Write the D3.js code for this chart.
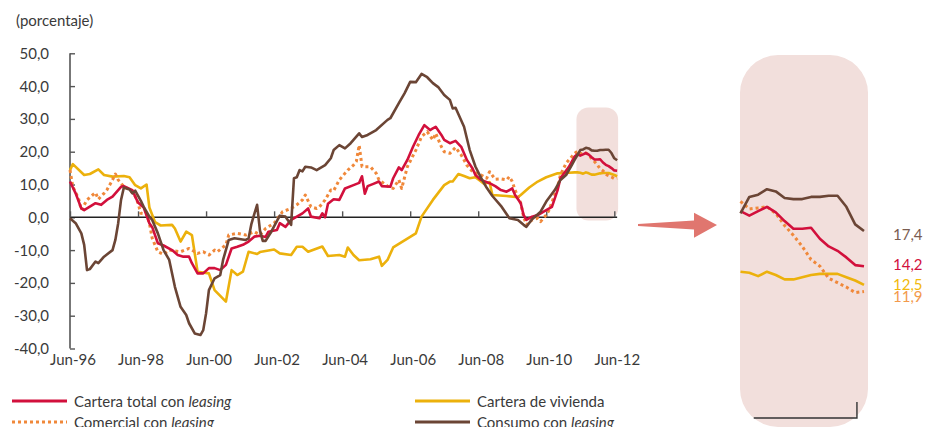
<!DOCTYPE html>
<html><head><meta charset="utf-8">
<script src="https://cdn.jsdelivr.net/npm/d3@7"></script>
<style>
html,body{margin:0;padding:0;background:#fff;}
svg{display:block;font-family:Lato,"Open Sans",sans-serif;}
</style></head>
<body><svg id="c" width="926" height="427"></svg>
<script>
// ---- data (month index: 0 = Jun-96, 192 = Jun-12) ----
const xTickLabels = ["Jun-96","Jun-98","Jun-00","Jun-02","Jun-04","Jun-06","Jun-08","Jun-10","Jun-12"];
const xTickMonths = [0,24,48,72,96,120,144,168,192];
const yTicks = [50,40,30,20,10,0,-10,-20,-30,-40];
const seriesNames = ["Cartera total con ", "Comercial con ", "Cartera de vivienda", "Consumo con "];
const seriesItalic = ["leasing", "leasing", "", "leasing"];
const endLabels = ["14,2", "11,9", "12,5", "17,4"];

const carteraTotal = [[0,10.9],[2,7.3],[4,2.7],[5,2.2],[9,4.3],[11,3.8],[13,5.3],[15,6.3],[18,9.3],[19,9.5],[22,8.3],[23,6.3],[24,4.5],[26,3.0],[28,-1.8],[29,-3],[31,-7.9],[33,-8.6],[36,-10],[38,-11.5],[40,-12],[42,-12],[43,-14],[45,-17.1],[47,-17.1],[49,-15.5],[51,-15.5],[53,-16.1],[55,-14.5],[57,-9.5],[59,-9],[61,-8.4],[63,-7.4],[65,-5.9],[67,-5.6],[69,-6],[70,-4.4],[73,-3.9],[74,-1.8],[76,-2.9],[78,-0.8],[80,0.2],[82,1.2],[84,2.7],[85,0.2],[88,-0.3],[89,1.2],[90,0],[91,4.1],[93,5.5],[95,5.3],[97,8.8],[100,9.8],[102,10.5],[103,12.5],[104,7.2],[105,9.5],[107,10.2],[109,10.9],[110,9.5],[113,9.3],[114,11.9],[116,15.2],[117,14.4],[119,17.5],[121,21.5],[123,25.1],[125,28.1],[127,26.6],[128,27.1],[129,27.6],[131,25.1],[132,23.6],[134,22.6],[136,23.3],[138,21.5],[140,17.5],[142,14.9],[143,12.9],[145,11.4],[148,10.4],[150,9.5],[152,8.3],[154,7.8],[156,8.8],[157,6.8],[159,4.3],[160,0.7],[161,-0.8],[163,0.2],[165,0.7],[168,2.2],[170,3.2],[172,8.3],[173,11.9],[176,15.4],[177,17.0],[178,18.5],
  [179,19.2],[180,18.8],[181,19.2],[182,19.6],[183,19.1],[184,18.3],[185,17.6],[186,17.6],[187,17.7],[188,16.7],[189,16.0],[190,15.6],[191,15.0],[192,14.3],[193,14.2]];

const comercial = [[0,14.4],[1,9.3],[3,5.8],[4,2.2],[6,5.3],[8,6.8],[9,7.5],[10,5.5],[12,7.3],[13,8.3],[15,11.4],[16,13.2],[17,11.4],[19,9.3],[21,8.5],[23,6.5],[24,4.3],[25,1.2],[27,1.0],[28,-1.8],[29,-6.4],[31,-10.5],[33,-11.3],[35,-10],[39,-10.5],[42,-9.5],[45,-11],[47,-10.5],[49,-11.5],[51,-10],[52,-10.5],[55,-8.4],[56,-5.4],[59,-4.9],[62,-5.4],[65,-4.4],[67,-5.4],[69,-3.4],[72,-1.8],[75,1.7],[78,2.7],[80,3.8],[82,5.3],[83,6.8],[85,3.2],[87,2.7],[88,3.2],[90,5.3],[92,8.3],[93,8.1],[95,11.4],[98,14.4],[100,15.9],[101,17],[102,22],[103,15.5],[104,15.4],[106,15.4],[108,13.4],[109,11.4],[112,9.5],[114,8.8],[116,11.4],[117,8.8],[119,15.4],[122,20.5],[124,24.6],[126,26.1],[128,23.6],[129,25.6],[131,21.5],[132,20],[134,19.5],[136,21.3],[138,19],[140,15.9],[142,13.9],[145,12.9],[147,11.9],[148,13.9],[150,11.6],[152,11.7],[154,11.4],[155,12.4],[156,10.9],[157,8.3],[159,4.3],[160,0.2],[161,-2.3],[163,-0.8],[165,-0.3],[166,-1.3],[168,0.7],[169,2.2],[172,9.3],[173,12.9],[175,16.5],[177,18.5],[178,19.5],
  [179,20.1],[180,19.4],[181,19.5],[182,19.6],[183,19.0],[184,17.9],[185,17.0],[186,16.0],[187,14.8],[188,14.2],[189,13.1],[190,12.7],[191,12.3],[192,11.8],[193,11.9]];

const vivienda = [[0,14.4],[1,16.2],[5,12.9],[7,13.2],[10,14.6],[12,12.9],[15,12.4],[19,12.6],[21,12.2],[23,9.8],[25,8.8],[27,10.0],[28,3.0],[30,-1.5],[32,-2.5],[36,-2.3],[37,-3.4],[39,-7.4],[41,-4.4],[43,-5.4],[45,-16.6],[49,-17.1],[51,-22.2],[55,-25.7],[57,-16.1],[59,-17.6],[61,-16.6],[63,-10.5],[66,-11.2],[67,-10.6],[72,-9.8],[74,-11],[78,-11.5],[80,-9.0],[82,-9.0],[84,-10.5],[89,-8.9],[91,-11.8],[95,-11.5],[97,-12],[98,-9.2],[100,-11.5],[102,-13.1],[106,-12.8],[109,-12],[110,-14.8],[112,-13],[114,-9.2],[117,-7.6],[122,-4.9],[124,0.2],[128,5.3],[132,9.8],[134,10.9],[135,10.9],[137,13.2],[139,12.6],[141,11.9],[143,12.2],[145,10.9],[146,10.2],[148,10.7],[149,6.8],[154,6.5],[158,6.1],[159,6.8],[162,9.1],[165,10.9],[168,12.2],[172,13.4],[176,13.6],[178,13.7],
  [179,13.7],[180,13.6],[181,13.3],[182,13.7],[183,13.4],[184,13.0],[185,13.0],[186,13.2],[187,13.4],[188,13.5],[189,13.5],[190,13.5],[191,13.2],[192,12.9],[193,12.5]];

const consumo = [[0,-0.3],[2,-1.8],[4,-4.9],[5,-8.4],[6,-16.1],[7,-15.8],[9,-13.5],[10,-14],[12,-12],[15,-10],[16,-6.9],[17,-1.8],[18,5.3],[19,9.1],[21,8.5],[22,7.3],[23,8.1],[25,5.0],[26,3.2],[28,0.2],[29,-0.8],[31,-4.9],[33,-10],[35,-13],[37,-21.2],[39,-27.3],[41,-29.8],[42,-32.3],[44,-35.4],[46,-35.9],[47,-34.4],[48,-29.3],[49,-22.2],[51,-18.6],[53,-17.6],[54,-13],[56,-6.9],[58,-6.4],[62,-6.9],[63,-6.4],[64,-2],[65,1.0],[66,3.8],[67,-4],[68,-7.2],[69,-7.2],[71,-4.4],[74,0.5],[76,0.2],[78,-2.3],[79,11.9],[80,12.2],[81,14.4],[82,14.0],[83,15.4],[85,15.2],[87,14.4],[90,15.9],[92,18],[93,20.5],[95,22],[97,21],[99,22.6],[100,23.6],[102,25.6],[103,24.5],[105,25.1],[108,26.6],[112,29.7],[113,30.2],[116,34.8],[118,37.8],[120,41.3],[122,41.2],[124,43.7],[126,42.7],[128,40.9],[130,39.6],[132,37.3],[134,35.8],[135,33.2],[136,33.4],[139,27.6],[141,20.5],[143,15.5],[145,12],[147,9.0],[149,6.5],[152,3.5],[155,-0.3],[158,-0.8],[160,-2.3],[161,-2.9],[163,-0.6],[166,1.7],[168,4.8],[171,8.3],[173,11.4],[175,12.9],[177,15.9],[178,17.5],
  [179,19.0],[180,20.5],[181,20.7],[182,21.2],[183,21.0],[184,20.4],[185,20.3],[186,20.3],[187,20.5],[188,20.5],[189,20.6],[190,20.6],[191,19.6],[192,18.0],[193,17.4]];

const zoomStart = 179, zoomEnd = 193;

// ---- styles ----
const colors = ["#d2103c", "#f0883a", "#ecb10c", "#6b4535"];
const labelColors = ["#d2103c", "#f39a4c", "#f2b90a", "#7a5c50"];
const seriesData = [carteraTotal, comercial, vivienda, consumo];
const drawOrder = [2, 1, 0, 3];

const svg = d3.select("#c");
const textColor = "#3a3a3a";

const x = d3.scaleLinear().domain([0, 192]).range([70, 614.3]);
const y = d3.scaleLinear().domain([-40, 50]).range([348.5, 53.3]);
const xz = d3.scaleLinear().domain([zoomStart, zoomEnd]).range([740.5, 864]);
const yz = d3.scaleLinear().domain([10, 25]).range([312.4, 147.4]);

// unit label
svg.append("text").attr("x", 16).attr("y", 26).attr("font-size", 15).attr("fill", textColor).text("(porcentaje)");

// highlight box in main chart
svg.append("rect")
  .attr("x", x(zoomStart) - 1).attr("y", y(33.5))
  .attr("width", x(zoomEnd) - x(zoomStart) + 2).attr("height", y(-1) - y(33.5))
  .attr("rx", 12).attr("fill", "#f2dfdc");

// y axis
const yAxis = d3.axisRight(y).tickValues(yTicks).tickSize(5).tickFormat(() => "");
const gy = svg.append("g").attr("transform", `translate(${x(0)},0)`).call(yAxis);
gy.select(".domain").attr("stroke", "#555").attr("stroke-width", 1.6).attr("d", `M0,${y(50)}V${y(-40)}`);
gy.selectAll(".tick line").attr("stroke", "#555").attr("stroke-width", 1.4);
svg.append("g").selectAll("text").data(yTicks).join("text")
  .attr("x", 49).attr("y", d => y(d) + 5.5).attr("text-anchor", "end")
  .attr("font-size", 15).attr("fill", textColor)
  .text(d => d.toFixed(1).replace(".", ","));

// x axis at zero
const xAxis = d3.axisTop(x).tickValues(xTickMonths).tickSize(6).tickFormat(() => "");
const gx = svg.append("g").attr("transform", `translate(0,${y(0)})`).call(xAxis);
gx.select(".domain").attr("stroke", "#222").attr("stroke-width", 1.5).attr("d", `M${x(0)},0H${x(zoomEnd)}`);
gx.selectAll(".tick line").attr("stroke", "#555").attr("stroke-width", 1.4);
svg.append("g").selectAll("text").data(xTickMonths).join("text")
  .attr("x", d => x(d) + 3).attr("y", 365).attr("text-anchor", "middle")
  .attr("font-size", 15).attr("fill", textColor)
  .text((d, i) => xTickLabels[i]);

// main lines
const line = d3.line().x(d => x(d[0])).y(d => y(d[1]));
drawOrder.forEach(i => {
  const p = svg.append("path").datum(seriesData[i]).attr("d", line)
    .attr("fill", "none").attr("stroke", colors[i]).attr("stroke-width", 2.6)
    .attr("stroke-linejoin", "round");
  if (i === 1) p.attr("stroke-dasharray", "3,3").attr("stroke-width", 3);
});

// arrow
svg.append("path")
  .attr("d", "M638,224L694,220.5L694,212.7L717,225L694,237.7L694,229.5L638,226Z")
  .attr("fill", "#e0766f");

// zoom panel
svg.append("rect").attr("x", 740).attr("y", 55).attr("width", 128).attr("height", 372)
  .attr("rx", 38).attr("fill", "#f2dfdc");
svg.append("path").attr("d", `M${xz(180.5)},418H${xz(192.2)}V402`)
  .attr("fill", "none").attr("stroke", "#333").attr("stroke-width", 1.4);

const zline = d3.line().x(d => xz(d[0])).y(d => yz(d[1]));
drawOrder.forEach(i => {
  const seg = seriesData[i].filter(d => d[0] >= zoomStart);
  const p = svg.append("path").datum(seg).attr("d", zline)
    .attr("fill", "none").attr("stroke", colors[i]).attr("stroke-width", 2.6)
    .attr("stroke-linejoin", "round");
  if (i === 1) p.attr("stroke-dasharray", "3,3").attr("stroke-width", 3);
});

// end labels
const labelBaselines = [270, 302, 290, 240];
endLabels.forEach((t, i) => {
  svg.append("text").attr("x", 893).attr("y", labelBaselines[i])
    .attr("font-size", 15).attr("fill", labelColors[i]).text(t);
});

// legend
const legendPos = [[12, 401], [12, 422], [415, 401], [415, 422]];
seriesNames.forEach((name, i) => {
  const [lx, ly] = legendPos[i];
  const l = svg.append("line").attr("x1", lx).attr("x2", lx + 55).attr("y1", ly).attr("y2", ly)
    .attr("stroke", colors[i]).attr("stroke-width", 3);
  if (i === 1) l.attr("stroke-dasharray", "3,3");
  const t = svg.append("text").attr("x", lx + 62).attr("y", ly + 5.5)
    .attr("font-size", 15).attr("fill", textColor).text(name);
  if (seriesItalic[i]) t.append("tspan").attr("font-style", "italic").text(seriesItalic[i]);
});
</script></body></html>
